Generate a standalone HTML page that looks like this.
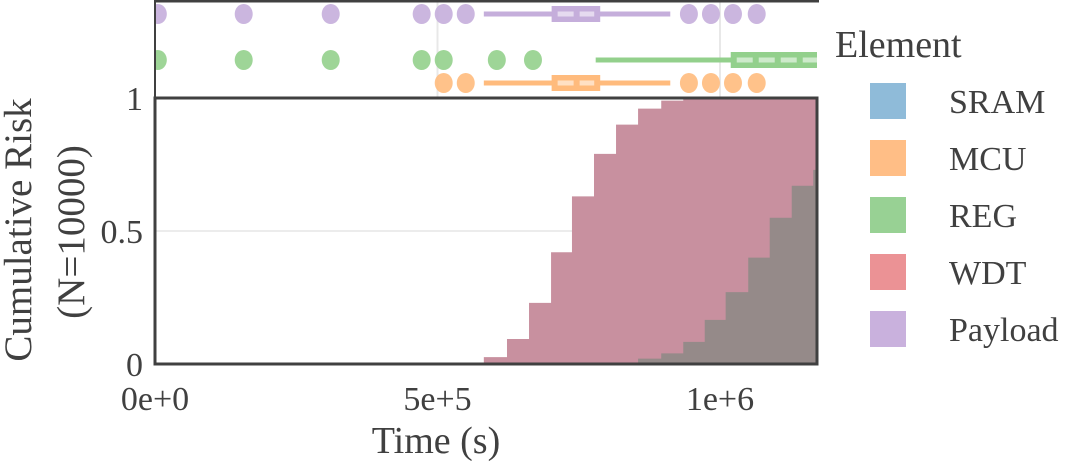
<!DOCTYPE html>
<html><head><meta charset="utf-8"><style>
html,body{margin:0;padding:0;background:#fff;}
svg, svg text{font-family:"Liberation Serif","Times New Roman","DejaVu Serif",serif;}
</style></head><body>
<svg id="chart" width="1065" height="469" viewBox="0 0 1065 469">
<g id="strip"></g>
<g id="main"></g>
<g id="axes"></g>
<g id="legend"></g>
</svg>
<script>
// ---- data ----
const wdtTimes = [545000, 582000, 623000, 662000, 701000, 738000, 777000, 816000, 855000, 896000, 935000];
const wdtRisk  = [0.002, 0.026, 0.094, 0.23, 0.42, 0.63, 0.79, 0.90, 0.96, 0.99, 1.0];
const regTimes = [810000, 855000, 896000, 935000, 973000, 1010000, 1050000, 1088000, 1127000, 1165000];
const regRisk  = [0.003, 0.02, 0.04, 0.083, 0.166, 0.27, 0.40, 0.55, 0.67, 0.73];
const stripRows = ["Payload", "REG", "MCU"];
const payloadPts = [5000, 157000, 311000, 472000, 511000, 550000, 945000, 984000, 1023000, 1065000];
const payloadBox = [582000, 702000, 740000, 788000, 912000];
const regPts = [5000, 157000, 311000, 472000, 511000, 605000, 669000];
const regBox = [780000, 1019000, 1100000, 1250000, 1300000];
const mcuPts = [511000, 550000, 945000, 984000, 1023000, 1065000];
const mcuBox = [582000, 702000, 740000, 788000, 912000];
const xTicks = [0, 500000, 1000000];
const xTickLabels = ["0e+0", "5e+5", "1e+6"];
const yTicks = [0, 0.5, 1];
const yTickLabels = ["0", "0.5", "1"];
const legendNames = ["SRAM", "MCU", "REG", "WDT", "Payload"];
const legendColors = ["#8fbbd9", "#ffbe86", "#98d194", "#eb9295", "#c9b1dd"];

// ---- scales ----
const X0 = 155, X1 = 817, XMAX = 1171700;
const Y0 = 364, Y1 = 98;
const NS = "http://www.w3.org/2000/svg";
const FONT = '"Liberation Serif", "Times New Roman", "DejaVu Serif", serif';
function xs(t){ return X0 + (t / XMAX) * (X1 - X0); }
function ys(v){ return Y0 - v * (Y0 - Y1); }
function mk(tag, attrs, parent){
  const e = document.createElementNS(NS, tag);
  for (const k in attrs) e.setAttribute(k, attrs[k]);
  if (tag === 'text') e.style.fontFamily = FONT;
  parent.appendChild(e); return e;
}
const strip = document.getElementById('strip');
const main = document.getElementById('main');
const axes = document.getElementById('axes');
const legend = document.getElementById('legend');

const defs = mk('defs', {}, document.getElementById('chart'));
const cp1 = mk('clipPath', {id:'cpMain'}, defs); mk('rect', {x:X0, y:Y1, width:X1-X0, height:Y0-Y1}, cp1);
const cp2 = mk('clipPath', {id:'cpStrip'}, defs); mk('rect', {x:X0, y:0, width:X1-X0, height:Y1}, cp2);
strip.setAttribute('clip-path', 'url(#cpStrip)');

xTicks.slice(1).forEach(t => {
  const g = mk('line', {x1:xs(t), x2:xs(t), y1:0, y2:Y1, stroke:'#e8e8e8', 'stroke-width':2}, strip);
  
  
});
const rowY = [14, 60, 83];
const rowColor = ["#c5aedb", "#93d08c", "#ffbb7d"];
const rowPts = [payloadPts, regPts, mcuPts];
const rowBox = [payloadBox, regBox, mcuBox];
rowPts.forEach((pts, r) => {
  const y = rowY[r], c = rowColor[r], b = rowBox[r];
  const wl = mk('line', {x1:xs(b[0]), x2:xs(b[4]), y1:y, y2:y, stroke:c, 'stroke-width':5}, strip);
  
  
  const bx = mk('rect', {x:xs(b[1]), y:y-8, width:xs(b[3])-xs(b[1]), height:16, fill:c}, strip);
  
  
  const md = mk('line', {x1:xs(b[1])+6, x2:xs(b[3])-6, y1:y, y2:y, stroke:'#fff', 'stroke-opacity':0.55, 'stroke-width':5, 'stroke-dasharray':'16 6'}, strip);
  
  
  pts.forEach(t => {
    const p = mk('ellipse', {cx:xs(t), cy:y, rx:9, ry:10, fill:c, 'fill-opacity':0.9}, strip);
    
    
  });
});
mk('line', {x1:X0, x2:X1+2, y1:1, y2:1, stroke:'#404040', 'stroke-width':3}, axes);
mk('line', {x1:X0, x2:X0, y1:0, y2:Y1, stroke:'#404040', 'stroke-width':2}, axes);

const gl = mk('line', {x1:X0, x2:X1, y1:ys(0.5), y2:ys(0.5), stroke:'#ececec', 'stroke-width':2}, main);



function stepPath(ts, vs){
  let d = 'M' + xs(ts[0]) + ',' + ys(0);
  for (let i = 0; i < ts.length; i++){
    d += ' L' + xs(ts[i]) + ',' + ys(i ? vs[i-1] : 0) + ' L' + xs(ts[i]) + ',' + ys(vs[i]);
  }
  d += ' L' + (X1 + 5) + ',' + ys(vs[vs.length-1]) + ' L' + (X1 + 5) + ',' + ys(0) + ' Z';
  return d;
}
const g2 = mk('g', {'clip-path':'url(#cpMain)'}, main);
const a1 = mk('path', {d:stepPath(wdtTimes, wdtRisk), fill:'#c8909f'}, g2);


const a2 = mk('path', {d:stepPath(regTimes, regRisk), fill:'#958a89'}, g2);


const frame = mk('rect', {x:X0, y:Y1, width:X1-X0, height:Y0-Y1, fill:'none', stroke:'#404040', 'stroke-width':3}, axes);



xTicks.forEach((t, i) => {
  const tx = mk('text', {x:xs(t), y:410, 'font-size':34, fill:'#404040', 'text-anchor':'middle'}, axes);
  tx.textContent = xTickLabels[i];
  
  
});
yTicks.forEach((v, i) => {
  const tx = mk('text', {x:143, y:ys(v)+12, 'font-size':34, fill:'#404040', 'text-anchor':'end'}, axes);
  tx.textContent = yTickLabels[i];
  
  
});
const xt = mk('text', {x:436, y:453, 'font-size':38, fill:'#404040', 'text-anchor':'middle'}, axes);
xt.textContent = 'Time (s)';


const yt1 = mk('text', {x:0, y:0, 'font-size':39, fill:'#404040', 'text-anchor':'middle', transform:'translate(31,230) rotate(-90)'}, axes);
yt1.textContent = 'Cumulative Risk';


const yt2 = mk('text', {x:0, y:0, 'font-size':39, fill:'#404040', 'text-anchor':'middle', transform:'translate(84,232) rotate(-90)'}, axes);
yt2.textContent = '(N=10000)';



const lt = mk('text', {x:835, y:57, 'font-size':38, fill:'#404040'}, legend);
lt.textContent = 'Element';


legendNames.forEach((n, i) => {
  const cy = 101 + i * 57;
  const sw = mk('rect', {x:870, y:cy-18, width:36, height:36, fill:legendColors[i]}, legend);
  
  
  const tx = mk('text', {x:949, y:cy+12, 'font-size':34, fill:'#404040'}, legend);
  tx.textContent = n;
  
  
});
</script>
</body></html>
